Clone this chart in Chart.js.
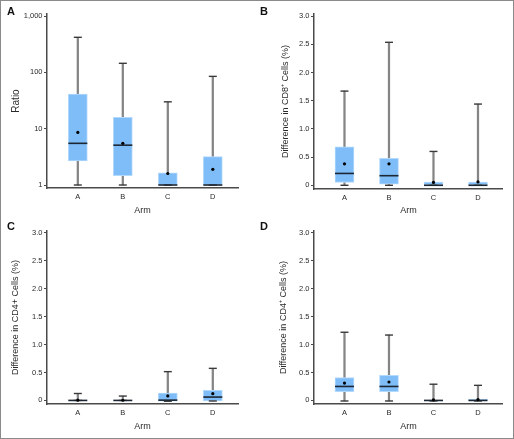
<!DOCTYPE html>
<html>
<head>
<meta charset="utf-8">
<script src="https://cdn.jsdelivr.net/npm/chart.js"></script>
<style>
  html, body { margin: 0; padding: 0; background: #fff; }
  #frame { position: relative; width: 514px; height: 439px; overflow: hidden; }
  #frame canvas { position: absolute; }
  .tag { position: absolute; font: bold 11px "Liberation Sans", Arial, sans-serif; line-height: 11px; color: #111; }
  #border { position: absolute; left: 0; top: 0; width: 514px; height: 439px; box-sizing: border-box; border: 1px solid #8a8a8a; pointer-events: none; }
</style>
</head>
<body>
<div id="frame">
  <canvas id="pA" width="257" height="220" style="left:0;top:0"></canvas>
  <canvas id="pB" width="257" height="220" style="left:257px;top:0"></canvas>
  <canvas id="pC" width="257" height="219" style="left:0;top:220px"></canvas>
  <canvas id="pD" width="257" height="219" style="left:257px;top:220px"></canvas>
  <div class="tag" style="left:7px;top:6px">A</div>
  <div class="tag" style="left:260px;top:6px">B</div>
  <div class="tag" style="left:7px;top:221px">C</div>
  <div class="tag" style="left:260px;top:221px">D</div>
  <div id="border"></div>
</div>
<script>
const arms = ['A', 'B', 'C', 'D'];
const armPos = [1, 2, 3, 4];

// A: ratio, log axis
const ratioLow = [1, 1, 1, 1];
const ratioQ1 = [2.67, 1.46, 1, 1];
const ratioMedian = [5.5, 5.1, 1, 1];
const ratioQ3 = [41, 16, 1.65, 3.2];
const ratioHigh = [420, 145, 30, 85];
const ratioMean = [8.6, 5.5, 1.6, 1.9];
const ratioTicks = [1, 10, 100, 1000];

// B: difference in CD8+ cells (%)
const cd8Low = [0, 0, 0, 0];
const cd8Q1 = [0.05, 0.02, 0, 0];
const cd8Median = [0.21, 0.17, 0, 0];
const cd8Q3 = [0.68, 0.48, 0.055, 0.055];
const cd8High = [1.67, 2.535, 0.6, 1.44];
const cd8Mean = [0.38, 0.38, 0.05, 0.06];

// C: difference in CD4+ cells (%)
const cd4cLow = [0, 0, -0.015, -0.01];
const cd4cQ1 = [0, 0, -0.015, -0.01];
const cd4cMedian = [0, 0, 0.005, 0.06];
const cd4cQ3 = [0, 0, 0.13, 0.18];
const cd4cHigh = [0.124, 0.078, 0.515, 0.574];
const cd4cMean = [0.005, 0.003, 0.08, 0.12];

// D: difference in CD4+ cells (%)
const cd4dLow = [-0.01, -0.01, -0.01, -0.01];
const cd4dQ1 = [0.155, 0.155, -0.01, -0.01];
const cd4dMedian = [0.25, 0.25, 0, 0];
const cd4dQ3 = [0.41, 0.45, 0, 0.025];
const cd4dHigh = [1.22, 1.17, 0.29, 0.27];
const cd4dMean = [0.31, 0.33, 0.01, 0.015];

const pctTicks = [0, 0.5, 1, 1.5, 2, 2.5, 3];

const FONT = '"Liberation Sans", Arial, sans-serif';
const TEXT = '#2a2a2a';
const AXIS = '#4a4a4a';

function boxDatasets(low, q1, med, q3, high, mean) {
  const pts = vals => vals.map((v, i) => ({ x: armPos[i], y: v }));
  const ranges = (a, b) => a.map((v, i) => ({ x: armPos[i], y: [v, b[i]] }));
  return [
    { type: 'scatter', data: pts(mean), pointRadius: 1.6, pointBackgroundColor: '#000', pointBorderWidth: 0, order: 0 },
    { type: 'scatter', data: pts(med), pointStyle: 'line', pointRadius: 9.5, pointBorderColor: '#1c2733', pointBorderWidth: 1.6, order: 1 },
    { type: 'scatter', data: pts(high).concat(pts(low)), pointStyle: 'line', pointRadius: 4, pointBorderColor: '#3a3a3a', pointBorderWidth: 1.4, order: 2 },
    { type: 'bar', data: ranges(q1, q3), backgroundColor: '#7fbdf8', borderColor: '#b3d9fc', borderWidth: 1, borderSkipped: false, barThickness: 19, grouped: false, order: 3 },
    { type: 'bar', data: ranges(low, q1).concat(ranges(q3, high)), backgroundColor: '#858585', barThickness: 1.6, grouped: false, order: 4 }
  ];
}

function makeChart(id, spec) {
  const canvas = document.getElementById(id);
  const W = canvas.width, H = canvas.height;
  const a = spec.area;
  const tickFont = { family: FONT, size: 7.5 };
  const xTitleFont = { family: FONT, size: 9, lineHeight: 1 };
  const yTitleFont = { family: FONT, size: spec.yTitleSize, lineHeight: 1 };
  new Chart(canvas, {
    type: 'bar',
    data: { datasets: boxDatasets.apply(null, spec.data) },
    options: {
      responsive: false,
      animation: false,
      events: [],
      layout: { padding: { left: 0, top: a.top, right: W - a.right, bottom: 0 } },
      plugins: { legend: { display: false }, tooltip: { enabled: false } },
      scales: {
        x: {
          type: 'linear', min: 0.315, max: 4.56, offset: false,
          afterBuildTicks: s => { s.ticks = armPos.map(v => ({ value: v })); },
          afterFit: s => { s.height = H - a.bottom; },
          ticks: { callback: v => arms[v - 1], font: tickFont, color: TEXT, padding: 4, maxRotation: 0, autoSkip: false },
          grid: { display: false, drawTicks: false },
          border: { display: true, color: AXIS, width: 1.5 },
          title: { display: true, text: 'Arm', font: xTitleFont, color: TEXT, padding: { top: 0, bottom: spec.xTitleOff - 4.5 } }
        },
        y: {
          type: spec.log ? 'logarithmic' : 'linear',
          min: spec.yMin, max: spec.yMax,
          afterBuildTicks: s => { s.ticks = spec.ticks.map(v => ({ value: v })); },
          afterFit: s => { s.width = a.left; },
          ticks: {
            font: tickFont, color: TEXT, padding: 1.5, autoSkip: false,
            callback: v => spec.log ? v.toLocaleString('en-US') : (v === 0 ? '0' : v.toFixed(1))
          },
          grid: { display: true, drawOnChartArea: false, drawTicks: true, tickLength: 3, color: AXIS, lineWidth: 1 },
          border: { display: true, color: AXIS, width: 1.5 },
          title: { display: true, text: spec.yTitle, font: yTitleFont, color: TEXT, padding: { top: spec.yTitleX - spec.yTitleSize / 2, bottom: 0 } }
        }
      }
    }
  });
}

makeChart('pA', {
  area: { left: 47, right: 238, top: 14, bottom: 188 },
  log: true, yMin: 0.885, yMax: 1089, ticks: ratioTicks,
  yTitle: 'Ratio', yTitleSize: 10, yTitleX: 16, xTitleOff: 9,
  data: [ratioLow, ratioQ1, ratioMedian, ratioQ3, ratioHigh, ratioMean]
});
makeChart('pB', {
  area: { left: 57, right: 248, top: 14, bottom: 189 },
  log: false, yMin: -0.066, yMax: 3.037, ticks: pctTicks,
  yTitle: 'Difference in CD8\u207A Cells (%)', yTitleSize: 9, yTitleX: 29, xTitleOff: 9,
  data: [cd8Low, cd8Q1, cd8Median, cd8Q3, cd8High, cd8Mean]
});
makeChart('pC', {
  area: { left: 47, right: 238, top: 10, bottom: 184 },
  log: false, yMin: -0.064, yMax: 3.03, ticks: pctTicks,
  yTitle: 'Difference in CD4+ Cells (%)', yTitleSize: 9, yTitleX: 16, xTitleOff: 12,
  data: [cd4cLow, cd4cQ1, cd4cMedian, cd4cQ3, cd4cHigh, cd4cMean]
});
makeChart('pD', {
  area: { left: 57, right: 248, top: 10, bottom: 184 },
  log: false, yMin: -0.064, yMax: 3.03, ticks: pctTicks,
  yTitle: 'Difference in CD4\u207A Cells (%)', yTitleSize: 9, yTitleX: 27, xTitleOff: 12,
  data: [cd4dLow, cd4dQ1, cd4dMedian, cd4dQ3, cd4dHigh, cd4dMean]
});
</script>
</body>
</html>
